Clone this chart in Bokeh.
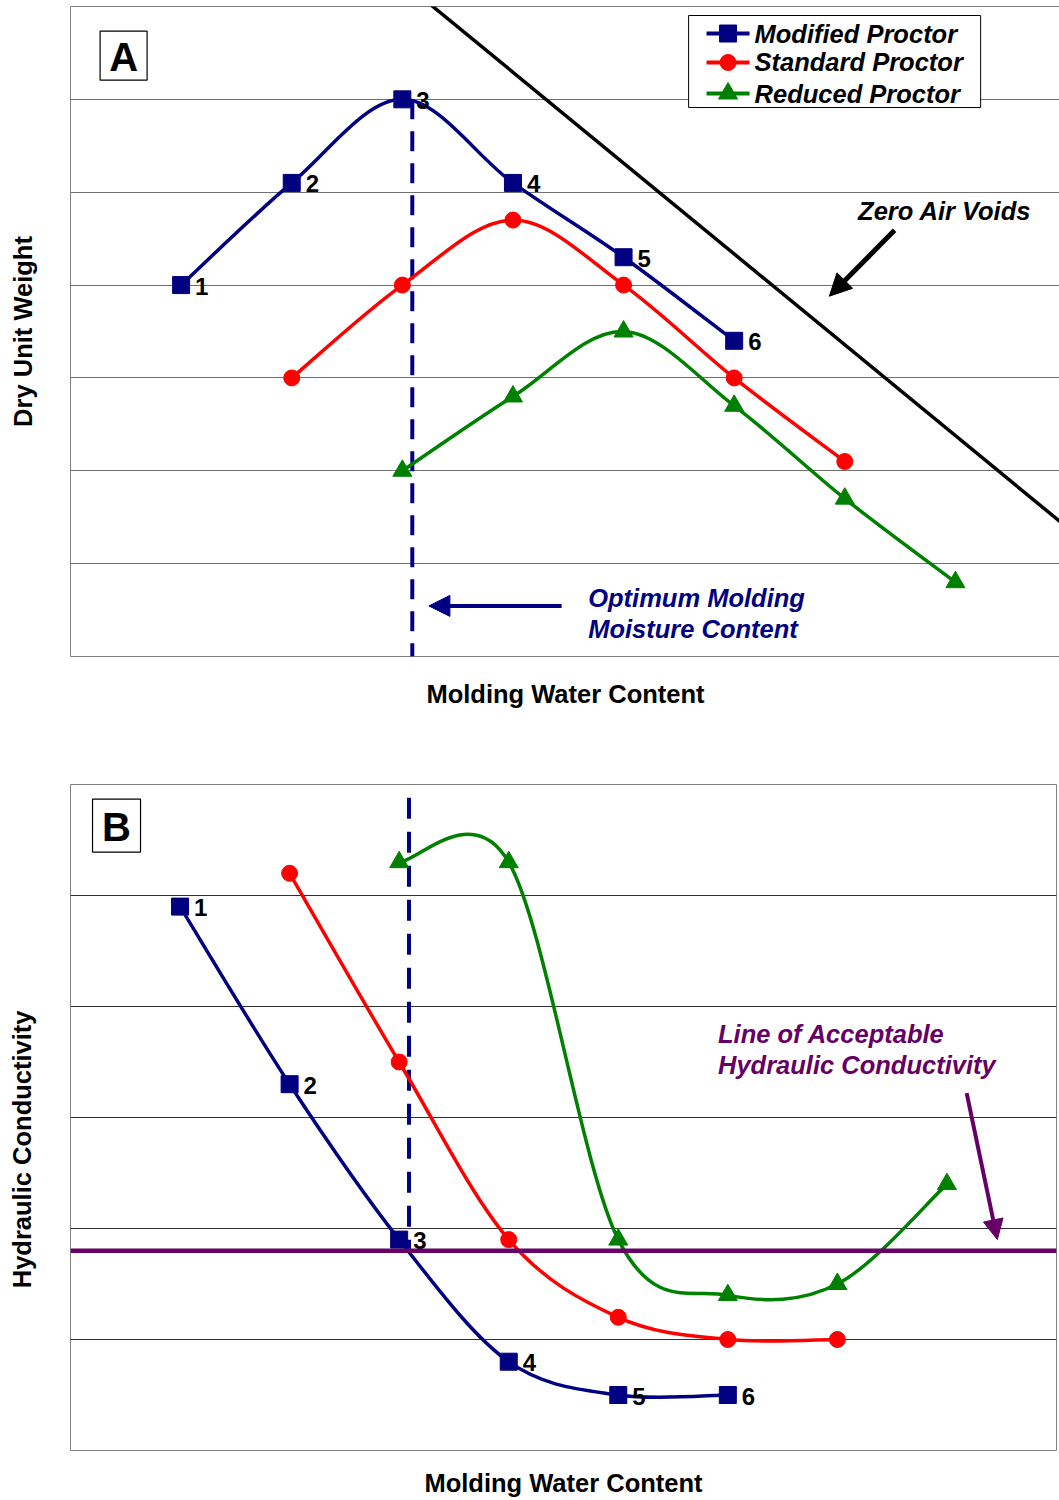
from bokeh.plotting import figure
from bokeh.layouts import column
from bokeh.models import (Range1d, FixedTicker, Arrow, NormalHead, Span)
from bokeh.core.properties import value
from bokeh.embed import file_html
from bokeh.resources import INLINE

# ---------------- data ----------------
mod_x = [1, 2, 3, 4, 5, 6]
std_x = [2, 3, 4, 5, 6, 7]
red_x = [3, 4, 5, 6, 7, 8]
point_labels = ["1", "2", "3", "4", "5", "6"]

# Panel A: dry unit weight
modA_y = [4.0, 5.1, 6.0, 5.1, 4.3, 3.4]
stdA_y = [3.0, 4.0, 4.7, 4.0, 3.0, 2.1]
redA_y = [2.0, 2.8, 3.5, 2.7, 1.7, 0.8]
zav_x = [3.0, 9.0]
zav_y = [7.27, 1.40]

# Panel B: hydraulic conductivity
modB_y = [4.9, 3.3, 1.9, 0.8, 0.5, 0.5]
stdB_y = [5.2, 3.5, 1.9, 1.2, 1.0, 1.0]
redB_y = [5.3, 5.3, 1.9, 1.4, 1.5, 2.4]
acceptable_k = 1.8

optimum_w = 3.09
optA_y = [6.0, 0.0]
optB_y = [5.88, 1.8]

series_names = ["Modified Proctor", "Standard Proctor", "Reduced Proctor"]
colors = ["#000080", "#FF0000", "#008000"]
markers = ["square", "circle", "triangle"]
marker_sizes = [17, 16, 19]

# legend placement (panel A data space)
legend_box = dict(left=5.588, right=8.228, top=6.903, bottom=5.912)
legend_rows_y = [6.709, 6.397, 6.063]
legend_line_x = [5.75, 6.139]
legend_text_x = 6.184

FONT = "Liberation Sans"
BIG = "25.5px"
NBSP = "\u00a0"


def bezier_parts(xs, ys):
    n = len(xs)
    out = dict(x0=[], y0=[], x1=[], y1=[], cx0=[], cy0=[], cx1=[], cy1=[])
    for i in range(n - 1):
        xm, ym = (xs[i - 1], ys[i - 1]) if i > 0 else (xs[i], ys[i])
        xp, yp = (xs[i + 2], ys[i + 2]) if i + 2 < n else (xs[i + 1], ys[i + 1])
        out["x0"].append(xs[i]); out["y0"].append(ys[i])
        out["x1"].append(xs[i + 1]); out["y1"].append(ys[i + 1])
        out["cx0"].append(xs[i] + (xs[i + 1] - xm) / 6.0)
        out["cy0"].append(ys[i] + (ys[i + 1] - ym) / 6.0)
        out["cx1"].append(xs[i + 1] - (xp - xs[i]) / 6.0)
        out["cy1"].append(ys[i + 1] - (yp - ys[i]) / 6.0)
    return out


def style_axes(p, xlabel, ylabel, xstand, ystand):
    for ax in (p.xaxis[0], p.yaxis[0]):
        ax.ticker = FixedTicker(ticks=[])
        ax.axis_line_color = None
        ax.major_tick_line_color = None
        ax.minor_tick_line_color = None
        ax.major_tick_out = 0
        ax.major_tick_in = 0
        ax.major_label_text_font_size = "0px"
        ax.major_label_standoff = 0
        ax.axis_label_text_font = FONT
        ax.axis_label_text_font_style = "bold"
        ax.axis_label_text_font_size = BIG
        ax.axis_label_text_color = "black"
    p.xaxis.axis_label = xlabel
    p.xaxis.axis_label_standoff = xstand
    p.yaxis.axis_label = ylabel
    p.yaxis.axis_label_standoff = ystand


def add_series(p, ys_list):
    for k, (xs, ys) in enumerate(zip([mod_x, std_x, red_x], ys_list)):
        b = bezier_parts(xs, ys)
        p.bezier(x0=b["x0"], y0=b["y0"], x1=b["x1"], y1=b["y1"],
                 cx0=b["cx0"], cy0=b["cy0"], cx1=b["cx1"], cy1=b["cy1"],
                 line_color=colors[k], line_width=3.5)
        p.scatter(xs, ys, marker=markers[k], size=marker_sizes[k],
                  fill_color=colors[k], line_color=colors[k])


def add_point_numbers(p, xs, ys):
    p.text(x=xs, y=ys, text=point_labels, x_offset=14, y_offset=1,
           text_baseline="middle", text_align="left",
           text_font=value(FONT), text_font_style="bold",
           text_font_size="24px", text_color="black")


def add_tag(p, x, y, w, h, letter):
    p.rect(x=[x], y=[y], width=w, height=h, width_units="screen",
           height_units="screen", fill_color="white", line_color="black",
           line_width=1.2)
    p.text(x=[x], y=[y], text=[letter], text_align="center",
           text_baseline="middle", y_offset=1, text_font=value(FONT),
           text_font_style="bold", text_font_size="40px", text_color="black")


def annot_text(p, x, ys, lines, color):
    p.text(x=[x] * len(lines), y=ys, text=lines, text_align="left",
           text_baseline="middle", text_font=value(FONT),
           text_font_style="bold italic", text_font_size=BIG,
           text_color=color)


# ---------------- panel A ----------------
pA = figure(frame_width=990, frame_height=650, min_border_left=69,
            min_border_right=0, min_border_top=6, min_border_bottom=56,
            x_range=Range1d(0, 8.95), y_range=Range1d(0, 7),
            output_backend="svg", toolbar_location=None,
            background_fill_color="white", border_fill_color="white")
pA.outline_line_color = "#808080"
style_axes(pA, "Molding Water Content", "Dry Unit Weight", 23, 34)
pA.xgrid.visible = False
pA.ygrid.ticker = FixedTicker(ticks=[1, 2, 3, 4, 5, 6])
pA.ygrid.grid_line_color = "#707070"
pA.ygrid.grid_line_width = 1

pA.line([optimum_w, optimum_w], optA_y, line_color="#000080", line_width=4,
        line_dash="20 12")
pA.line(zav_x, zav_y, line_color="black", line_width=3.5)
add_series(pA, [modA_y, stdA_y, redA_y])
add_point_numbers(pA, mod_x, modA_y)
add_tag(pA, 0.48, 6.47, 47, 49, "A")

annot_text(pA, 4.68, [0.635, 0.30], ["Optimum Molding", "Moisture Content"], "#000080")
annot_text(pA, 7.12, [4.80], ["Zero Air Voids"], "black")
pA.add_layout(Arrow(end=NormalHead(size=21, fill_color="#000080", line_color="#000080"),
                    x_start=4.44, y_start=0.545, x_end=3.24, y_end=0.545,
                    line_color="#000080", line_width=4))
pA.add_layout(Arrow(end=NormalHead(size=22, fill_color="black", line_color="black"),
                    x_start=7.45, y_start=4.59, x_end=6.86, y_end=3.88,
                    line_color="black", line_width=5))

# legend (drawn as a keyed box)
pA.quad(left=[legend_box["left"]], right=[legend_box["right"]],
        top=[legend_box["top"]], bottom=[legend_box["bottom"]],
        fill_color="white", line_color="black", line_width=1)
for k in range(3):
    ry = legend_rows_y[k]
    pA.line(legend_line_x, [ry, ry], line_color=colors[k], line_width=4)
    pA.scatter([sum(legend_line_x) / 2], [ry], marker=markers[k],
               size=marker_sizes[k], fill_color=colors[k], line_color=colors[k])
pA.text(x=[legend_text_x] * 3, y=legend_rows_y, text=series_names,
        text_align="left", text_baseline="middle", text_font=value(FONT),
        text_font_style="bold italic", text_font_size=BIG, text_color="black")

# ---------------- panel B ----------------
pB = figure(frame_width=986, frame_height=666, min_border_left=70,
            min_border_right=2, min_border_top=72, min_border_bottom=48,
            x_range=Range1d(0, 9), y_range=Range1d(0, 6),
            output_backend="svg", toolbar_location=None,
            background_fill_color="white", border_fill_color="white")
pB.outline_line_color = "#808080"
# trailing no-break spaces push the (centred) label down to where it sits in the original
style_axes(pB, "Molding Water Content", "Hydraulic Conductivity" + NBSP * 9, 18, 35)
pB.xgrid.visible = False
pB.ygrid.ticker = FixedTicker(ticks=[1, 2, 3, 4, 5])
pB.ygrid.grid_line_color = "#303030"
pB.ygrid.grid_line_width = 1

pB.add_layout(Span(location=acceptable_k, dimension="width", line_color="#660066",
                   line_width=4.5))
pB.line([optimum_w, optimum_w], optB_y, line_color="#000080", line_width=4,
        line_dash="21 13")
add_series(pB, [modB_y, stdB_y, redB_y])
add_point_numbers(pB, mod_x, modB_y)
add_tag(pB, 0.42, 5.63, 48, 53, "B")

annot_text(pB, 5.91, [3.75, 3.47], ["Line of Acceptable", "Hydraulic Conductivity"], "#660066")
pB.add_layout(Arrow(end=NormalHead(size=20, fill_color="#660066", line_color="#660066"),
                    x_start=8.18, y_start=3.22, x_end=8.46, y_end=1.90,
                    line_color="#660066", line_width=4))

layout = column(pA, pB, spacing=0)
open("out.html", "w").write(file_html(layout, INLINE))
